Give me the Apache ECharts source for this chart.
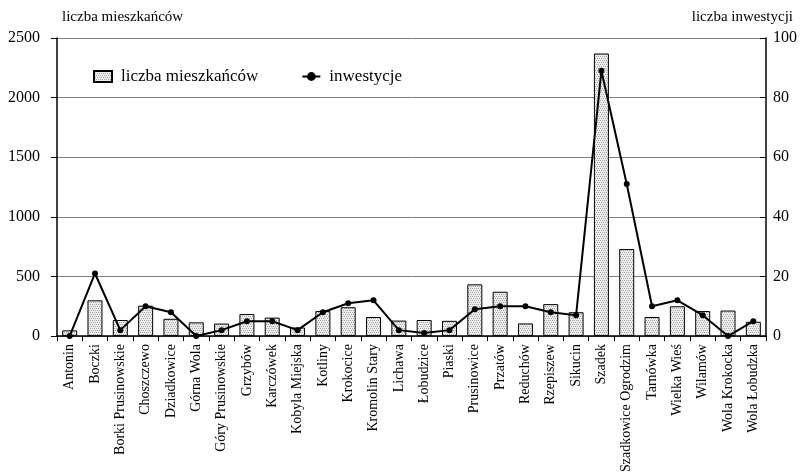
<!DOCTYPE html>
<html><head><meta charset="utf-8">
<script src="https://cdn.jsdelivr.net/npm/echarts@6/dist/echarts.min.js"></script>
</head><body style="margin:0;background:#fff">
<div id="c" style="width:809px;height:475px"></div>
<script>
const categories = ['Antonin','Boczki','Borki Prusinowskie','Choszczewo','Dziadkowice','Górna Wola','Góry Prusinowskie','Grzybów','Karczówek','Kobyla Miejska','Kotliny','Krokocice','Kromolin Stary','Lichawa','Łobudzice','Piaski','Prusinowice','Przatów','Reduchów','Rzepiszew','Sikucin','Szadek','Szadkowice Ogrodzim','Tarnówka','Wielka Wieś','Wilamów','Wola Krokocka','Wola Łobudzka'];
const residents = [48, 300, 135, 255, 145, 115, 105, 185, 155, 72, 210, 242, 160, 130, 135, 128, 434, 372, 106, 268, 200, 2370, 730, 160, 250, 210, 214, 120];
const investments = [0, 21, 2, 10, 8, 0, 2, 5, 5, 2, 8, 11, 12, 2, 1, 2, 9, 10, 10, 8, 7, 89, 51, 10, 12, 7, 0, 5];
const leftTicks = {min: 0, max: 2500, interval: 500};
const rightTicks = {min: 0, max: 100, interval: 20};

const FONT = 'Liberation Serif';
function makePattern() {
  const cv = document.createElement('canvas');
  cv.width = 4; cv.height = 4;
  const ctx = cv.getContext('2d');
  ctx.fillStyle = '#ececec';
  ctx.fillRect(0, 0, 4, 4);
  ctx.fillStyle = '#a8a8a8';
  ctx.fillRect(0, 0, 1, 1);
  ctx.fillRect(2, 0, 1, 1);
  ctx.fillRect(1, 2, 1, 1);
  ctx.fillRect(3, 2, 1, 1);
  return cv;
}
const pattern = {image: makePattern(), repeat: 'repeat'};

const chart = echarts.init(document.getElementById('c'), null, {renderer: 'canvas'});
chart.setOption({
  animation: false,
  backgroundColor: '#ffffff',
  textStyle: {fontFamily: FONT, color: '#000'},
  grid: {left: 57, right: 43, top: 38, bottom: 130, containLabel: false},
  graphic: [
    {type: 'text', left: 62, top: 10, style: {text: 'liczba mieszkańców', font: '15px "Liberation Serif"', fill: '#000'}},
    {type: 'text', right: 16, top: 10, style: {text: 'liczba inwestycji', font: '15px "Liberation Serif"', fill: '#000'}}
  ],
  legend: {
    left: 88, top: 63, itemGap: 43, itemWidth: 18, itemHeight: 11,
    textStyle: {fontFamily: FONT, fontSize: 17, color: '#000', padding: [0, 0, 0, 4]},
    data: [{name: 'liczba mieszkańców', icon: 'rect'}, {name: 'inwestycje'}]
  },
  xAxis: {
    type: 'category', data: categories, boundaryGap: true,
    axisLine: {lineStyle: {color: '#000', width: 1.5}},
    axisTick: {show: true, length: 5, lineStyle: {color: '#000'}},
    axisLabel: {rotate: 90, interval: 0, fontSize: 14, fontFamily: FONT, color: '#000', margin: 8}
  },
  yAxis: [
    {
      type: 'value', min: leftTicks.min, max: leftTicks.max, interval: leftTicks.interval,
      axisLine: {show: true, lineStyle: {color: '#000', width: 1.5}},
      axisTick: {show: true, length: 6, lineStyle: {color: '#000'}},
      axisLabel: {fontSize: 16, fontFamily: FONT, color: '#000', margin: 17, formatter: v => String(v)},
      splitLine: {show: true, lineStyle: {color: '#808080', width: 1}}
    },
    {
      type: 'value', min: rightTicks.min, max: rightTicks.max, interval: rightTicks.interval,
      axisLine: {show: true, lineStyle: {color: '#000', width: 1.5}},
      axisTick: {show: true, inside: true, length: 6, lineStyle: {color: '#000'}},
      axisLabel: {fontSize: 16, fontFamily: FONT, color: '#000', margin: 7, formatter: v => String(v)},
      splitLine: {show: false}
    }
  ],
  series: [
    {
      name: 'liczba mieszkańców', type: 'bar', yAxisIndex: 0, data: residents, barWidth: 15,
      itemStyle: {color: pattern, borderColor: '#000', borderWidth: 1}
    },
    {
      name: 'inwestycje', type: 'line', yAxisIndex: 1, data: investments,
      symbol: 'circle', symbolSize: 6,
      lineStyle: {color: '#000', width: 2},
      itemStyle: {color: '#000'}
    }
  ]
});
</script>
</body></html>
